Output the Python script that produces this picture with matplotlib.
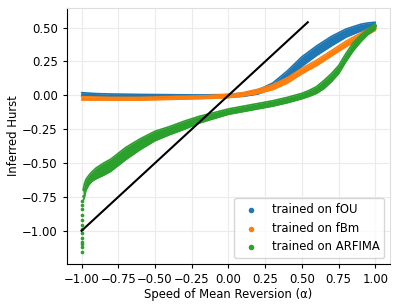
import matplotlib
matplotlib.use("Agg")
import matplotlib.pyplot as plt
import numpy as np

# fOU-trained model
fou_x = [-1.0, -0.9, -0.8, -0.6, -0.4, -0.2, 0.0, 0.1, 0.2, 0.3, 0.35, 0.4, 0.45, 0.5, 0.6, 0.7, 0.8, 0.9, 0.95, 1.0]
fou_y = [0.008, 0.003, 0.0, -0.003, -0.005, -0.007, -0.004, 0.005, 0.025, 0.07, 0.11, 0.15, 0.20, 0.25, 0.33, 0.40, 0.46, 0.50, 0.51, 0.52]
fou_h = [0.012, 0.01, 0.01, 0.01, 0.01, 0.01, 0.01, 0.012, 0.015, 0.02, 0.025, 0.03, 0.032, 0.035, 0.035, 0.035, 0.03, 0.025, 0.025, 0.02]

# fBm-trained model
fbm_x = [-1.0, -0.8, -0.6, -0.4, -0.2, 0.0, 0.1, 0.2, 0.3, 0.4, 0.5, 0.6, 0.7, 0.8, 0.9, 0.95, 1.0]
fbm_y = [-0.022, -0.025, -0.025, -0.02, -0.015, -0.005, 0.008, 0.03, 0.06, 0.11, 0.18, 0.24, 0.31, 0.38, 0.44, 0.47, 0.50]
fbm_h = [0.012, 0.01, 0.01, 0.01, 0.01, 0.012, 0.012, 0.015, 0.018, 0.02, 0.02, 0.02, 0.02, 0.02, 0.02, 0.02, 0.02]

# ARFIMA-trained model
arf_x = [-0.99, -0.98, -0.97, -0.95, -0.93, -0.9, -0.85, -0.8, -0.7, -0.6, -0.5, -0.4, -0.3, -0.2, -0.1, 0.0, 0.1, 0.2,
         0.3, 0.4, 0.5, 0.55, 0.6, 0.65, 0.7, 0.75, 0.8, 0.85, 0.9, 0.95, 1.0]
arf_y = [-0.74, -0.70, -0.66, -0.625, -0.60, -0.575, -0.545, -0.515, -0.43, -0.36, -0.30, -0.26, -0.22, -0.18, -0.15, -0.12, -0.10, -0.08,
         -0.06, -0.035, -0.005, 0.015, 0.04, 0.08, 0.13, 0.19, 0.28, 0.36, 0.42, 0.47, 0.51]
arf_h = [0.04, 0.05, 0.04, 0.035, 0.035, 0.04, 0.045, 0.045, 0.045, 0.04, 0.035, 0.03, 0.03, 0.025, 0.022, 0.02, 0.02, 0.02,
         0.02, 0.02, 0.02, 0.022, 0.025, 0.03, 0.03, 0.03, 0.03, 0.03, 0.025, 0.02, 0.02]
# isolated ARFIMA points at alpha = -1
arf_edge_x = [-0.995, -0.995, -0.995, -0.995, -1.0, -1.0, -1.0, -1.0, -1.0, -1.0, -1.0, -1.0, -1.0]
arf_edge_y = [-0.78, -0.81, -0.84, -0.88, -0.92, -0.96, -0.99, -1.02, -1.05, -1.08, -1.10, -1.12, -1.16]

# reference line H = alpha
ref_x = [-1.0, 0.54]
ref_y = [-1.0, 0.54]

colors = ["#1f77b4", "#ff7f0e", "#2ca02c"]
labels = ["trained on fOU", "trained on fBm", "trained on ARFIMA"]

FS = 8.4
fig = plt.figure(figsize=(3.98, 3.08), dpi=100)
ax = fig.add_axes([0.168, 0.143, 0.812, 0.831])

series = [(fou_x, fou_y, fou_h), (fbm_x, fbm_y, fbm_h), (arf_x, arf_y, arf_h)]
handles = []
for (x, y, h), c, lab in zip(series, colors, labels):
    x = np.array(x); y = np.array(y); h = np.array(h)
    ax.fill_between(x, y - h, y + h, color=c, lw=0, zorder=2)
    ax.plot(x, y + h, color=c, lw=1.2, zorder=2, solid_capstyle="round")
    ax.plot(x, y - h, color=c, lw=1.2, zorder=2, solid_capstyle="round")
    sc = ax.scatter(x, y, s=4, color=c, lw=0, zorder=2, label=lab)
    handles.append(sc)
    if c == colors[2]:
        ax.scatter(arf_edge_x, arf_edge_y, s=7, color=c, lw=0, zorder=2)

ax.plot(ref_x, ref_y, color="black", lw=1.5, zorder=3)

ax.set_xlim(-1.1, 1.1)
ax.set_ylim(-1.245, 0.645)
ax.set_xticks([-1.0, -0.75, -0.5, -0.25, 0.0, 0.25, 0.5, 0.75, 1.0])
ax.set_yticks([-1.0, -0.75, -0.5, -0.25, 0.0, 0.25, 0.5])
ax.grid(True, color="#ebebeb", lw=0.8, zorder=0)
ax.set_axisbelow(True)
for s in ["top", "right"]:
    ax.spines[s].set_color("#dddddd")
ax.set_xlabel("Speed of Mean Reversion (α)", fontsize=FS, labelpad=1.5)
ax.set_ylabel("Inferred Hurst", fontsize=FS, labelpad=1.5)
ax.tick_params(labelsize=FS, length=3)

leg = ax.legend(handles=handles, loc="lower right", fontsize=FS, markerscale=2.0,
                frameon=True, borderaxespad=0.5)

fig.savefig("out.png", dpi=100)
